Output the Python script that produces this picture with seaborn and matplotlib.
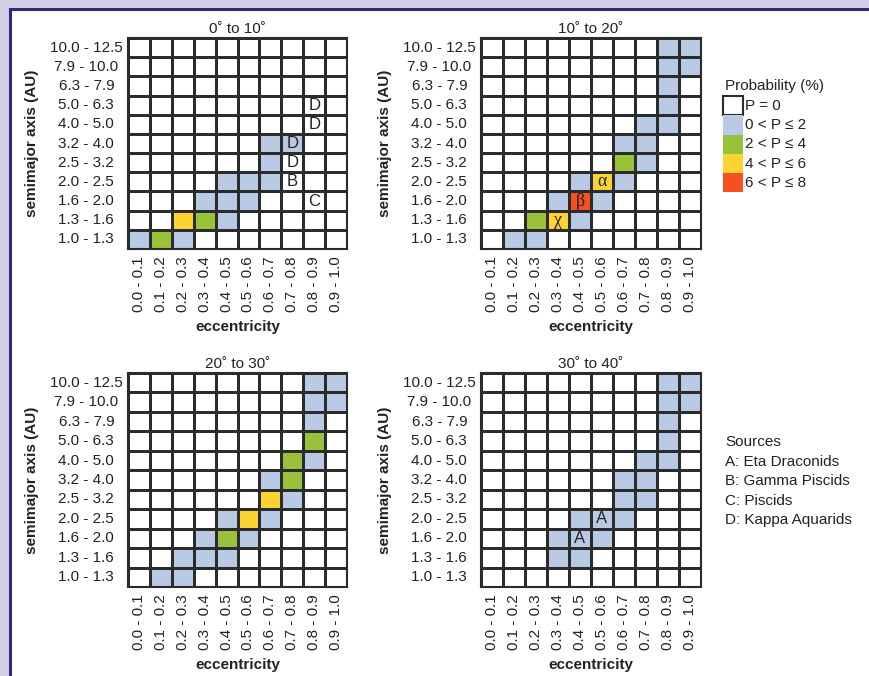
import numpy as np
import pandas as pd
import matplotlib
matplotlib.use("Agg")
import matplotlib.pyplot as plt
import seaborn as sns
from matplotlib.colors import ListedColormap
from matplotlib.patches import Rectangle

# ---------------- data ----------------
sma_bins = ["10.0 - 12.5", "7.9 - 10.0", "6.3 - 7.9", "5.0 - 6.3", "4.0 - 5.0",
            "3.2 - 4.0", "2.5 - 3.2", "2.0 - 2.5", "1.6 - 2.0", "1.3 - 1.6", "1.0 - 1.3"]
ecc_bins = ["0.0 - 0.1", "0.1 - 0.2", "0.2 - 0.3", "0.3 - 0.4", "0.4 - 0.5",
            "0.5 - 0.6", "0.6 - 0.7", "0.7 - 0.8", "0.8 - 0.9", "0.9 - 1.0"]

# probability class: 0 = P=0, 1 = 0<P<=2, 2 = 2<P<=4, 3 = 4<P<=6, 4 = 6<P<=8
incl_0_10 = [
    [0, 0, 0, 0, 0, 0, 0, 0, 0, 0],
    [0, 0, 0, 0, 0, 0, 0, 0, 0, 0],
    [0, 0, 0, 0, 0, 0, 0, 0, 0, 0],
    [0, 0, 0, 0, 0, 0, 0, 0, 0, 0],
    [0, 0, 0, 0, 0, 0, 0, 0, 0, 0],
    [0, 0, 0, 0, 0, 0, 1, 1, 0, 0],
    [0, 0, 0, 0, 0, 0, 1, 0, 0, 0],
    [0, 0, 0, 0, 1, 1, 1, 0, 0, 0],
    [0, 0, 0, 1, 1, 1, 0, 0, 0, 0],
    [0, 0, 3, 2, 1, 0, 0, 0, 0, 0],
    [1, 2, 1, 0, 0, 0, 0, 0, 0, 0],
]
incl_10_20 = [
    [0, 0, 0, 0, 0, 0, 0, 0, 1, 1],
    [0, 0, 0, 0, 0, 0, 0, 0, 1, 1],
    [0, 0, 0, 0, 0, 0, 0, 0, 1, 0],
    [0, 0, 0, 0, 0, 0, 0, 0, 1, 0],
    [0, 0, 0, 0, 0, 0, 0, 1, 1, 0],
    [0, 0, 0, 0, 0, 0, 1, 1, 0, 0],
    [0, 0, 0, 0, 0, 0, 2, 1, 0, 0],
    [0, 0, 0, 0, 1, 3, 1, 0, 0, 0],
    [0, 0, 0, 1, 4, 1, 0, 0, 0, 0],
    [0, 0, 2, 3, 1, 0, 0, 0, 0, 0],
    [0, 1, 1, 0, 0, 0, 0, 0, 0, 0],
]
incl_20_30 = [
    [0, 0, 0, 0, 0, 0, 0, 0, 1, 1],
    [0, 0, 0, 0, 0, 0, 0, 0, 1, 1],
    [0, 0, 0, 0, 0, 0, 0, 0, 1, 0],
    [0, 0, 0, 0, 0, 0, 0, 0, 2, 0],
    [0, 0, 0, 0, 0, 0, 0, 2, 1, 0],
    [0, 0, 0, 0, 0, 0, 1, 2, 0, 0],
    [0, 0, 0, 0, 0, 0, 3, 1, 0, 0],
    [0, 0, 0, 0, 1, 3, 1, 0, 0, 0],
    [0, 0, 0, 1, 2, 1, 0, 0, 0, 0],
    [0, 0, 1, 1, 1, 0, 0, 0, 0, 0],
    [0, 1, 1, 0, 0, 0, 0, 0, 0, 0],
]
incl_30_40 = [
    [0, 0, 0, 0, 0, 0, 0, 0, 1, 1],
    [0, 0, 0, 0, 0, 0, 0, 0, 1, 1],
    [0, 0, 0, 0, 0, 0, 0, 0, 1, 0],
    [0, 0, 0, 0, 0, 0, 0, 0, 1, 0],
    [0, 0, 0, 0, 0, 0, 0, 1, 1, 0],
    [0, 0, 0, 0, 0, 0, 1, 1, 0, 0],
    [0, 0, 0, 0, 0, 0, 1, 1, 0, 0],
    [0, 0, 0, 0, 1, 1, 1, 0, 0, 0],
    [0, 0, 0, 1, 1, 1, 0, 0, 0, 0],
    [0, 0, 0, 1, 1, 0, 0, 0, 0, 0],
    [0, 0, 0, 0, 0, 0, 0, 0, 0, 0],
]

# cell markers: (semimajor bin, eccentricity bin, text)
marks_0_10 = [("5.0 - 6.3", "0.8 - 0.9", "D"), ("4.0 - 5.0", "0.8 - 0.9", "D"),
              ("3.2 - 4.0", "0.7 - 0.8", "D"), ("2.5 - 3.2", "0.7 - 0.8", "D"),
              ("2.0 - 2.5", "0.7 - 0.8", "B"), ("1.6 - 2.0", "0.8 - 0.9", "C")]
marks_10_20 = [("2.0 - 2.5", "0.5 - 0.6", "α"), ("1.6 - 2.0", "0.4 - 0.5", "β"),
               ("1.3 - 1.6", "0.3 - 0.4", "χ")]
marks_20_30 = []
marks_30_40 = [("2.0 - 2.5", "0.5 - 0.6", "A"), ("1.6 - 2.0", "0.4 - 0.5", "A")]

panel_titles = ["0˚ to 10˚", "10˚ to 20˚", "20˚ to 30˚", "30˚ to 40˚"]
panel_data = [incl_0_10, incl_10_20, incl_20_30, incl_30_40]
panel_marks = [marks_0_10, marks_10_20, marks_20_30, marks_30_40]

legend_title = "Probability (%)"
legend_labels = ["P = 0", "0 < P ≤ 2", "2 < P ≤ 4", "4 < P ≤ 6", "6 < P ≤ 8"]
class_colors = ["#FFFFFF", "#B8CAE4", "#99C13B", "#FCD432", "#F5501D"]

sources_title = "Sources"
sources = ["A: Eta Draconids", "B: Gamma Piscids", "C: Piscids", "D: Kappa Aquarids"]

# ---------------- style ----------------
sns.set_theme(style="white")
plt.rcParams["font.family"] = ["Liberation Sans", "DejaVu Sans"]
plt.rcParams["text.color"] = "#222222"
plt.rcParams["axes.labelcolor"] = "#222222"
plt.rcParams["xtick.color"] = "#222222"
plt.rcParams["ytick.color"] = "#222222"

W, H = 869, 676
fig = plt.figure(figsize=(W / 100, H / 100), dpi=100)
fig.patch.set_facecolor("#D4CEE6")

# white panel with navy frame
fig.patches.append(Rectangle((9.5 / W, -0.05), (W - 9.5 + 20) / W, 1.05 - 9.5 / H,
                             transform=fig.transFigure, facecolor="white",
                             edgecolor="#2E2A80", linewidth=2.2, zorder=-5))

cmap = ListedColormap(class_colors)
line_col = "#2b2b2b"

# axes placement in pixels: left, top, right, bottom
boxes = [(128, 38, 347, 249), (481, 38, 701, 249),
         (128, 373, 347, 587), (481, 373, 701, 587)]

for data, marks, title, (l, t, r, b) in zip(panel_data, panel_marks, panel_titles, boxes):
    ax = fig.add_axes([l / W, 1 - b / H, (r - l) / W, (b - t) / H])
    df = pd.DataFrame(data, index=sma_bins, columns=ecc_bins)
    annot = pd.DataFrame("", index=sma_bins, columns=ecc_bins)
    for row, col, txt in marks:
        annot.loc[row, col] = txt
    sns.heatmap(df, ax=ax, cmap=cmap, vmin=-0.5, vmax=4.5, cbar=False,
                linewidths=1.0, linecolor=line_col, annot=annot.values, fmt="",
                annot_kws=dict(color="#222222", fontsize=12))
    for tx in ax.texts:
        if tx.get_text() in ("α", "β", "χ"):
            tx.set_fontfamily(["Liberation Serif", "DejaVu Serif"])
            tx.set_fontsize(13)
    for sp in ax.spines.values():
        sp.set_visible(True)
        sp.set_color(line_col)
        sp.set_linewidth(1.5)
    ax.set_title(title, fontsize=11, pad=3.5, color="#222222")
    ax.tick_params(axis="both", length=0, labelsize=11)
    ax.tick_params(axis="y", pad=30)
    ax.tick_params(axis="x", pad=5)
    for lbl in ax.get_yticklabels():
        lbl.set_rotation(0)
        lbl.set_ha("center")
    for lbl in ax.get_xticklabels():
        lbl.set_rotation(90)
        lbl.set_va("top")
    ax.set_xlabel("eccentricity", fontsize=11, fontweight="bold", labelpad=6)
    ax.set_ylabel("semimajor axis (AU)", fontsize=11, fontweight="bold", labelpad=8)

# probability legend
fig.text(725 / W, 1 - 86 / H, legend_title, fontsize=11, ha="left", va="center")
box_w, box_h = 20, 19.3
y0 = 96
for i, (lab, colr) in enumerate(zip(legend_labels, class_colors)):
    yt = y0 + i * box_h
    ec = line_col if i == 0 else colr
    fig.patches.append(Rectangle((722.5 / W, 1 - (yt + box_h) / H), box_w / W, box_h / H,
                                 transform=fig.transFigure, facecolor=colr,
                                 edgecolor=ec, linewidth=1.5 if i == 0 else 0, zorder=2))
    fig.text(745 / W, 1 - (yt + box_h / 2) / H, lab, fontsize=11, ha="left", va="center")

# sources legend
fig.text(725 / W, 1 - 442 / H, sources_title, fontsize=11, ha="left", va="center")
for i, s in enumerate(sources):
    fig.text(725 / W, 1 - (462 + i * 19.3) / H, s, fontsize=11, ha="left", va="center")

fig.savefig("out.png", dpi=100, facecolor=fig.get_facecolor())
